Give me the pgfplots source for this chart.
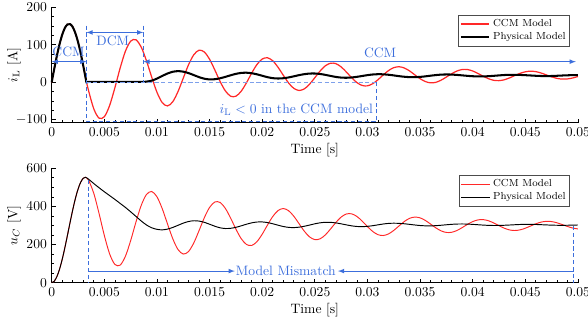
\documentclass[border=0pt]{standalone}
\usepackage{pgfplots}
\pgfplotsset{compat=1.18}
\definecolor{annblue}{RGB}{60,110,220}
\definecolor{lightblue}{RGB}{125,160,235}
\definecolor{myred}{RGB}{255,40,40}
\pgfplotsset{
  common/.style={
    width=386.8pt, scale only axis,
    xmin=0, xmax=0.05, enlargelimits=false, clip=false,
    axis lines=left, axis line style={-, line width=0.5pt},
    tick align=inside, major tick length=3pt, minor tick length=2pt,
    tick style={line width=0.5pt, black},
    xtick={0,0.005,0.01,0.015,0.02,0.025,0.03,0.035,0.04,0.045,0.05},
    minor x tick num=4, minor y tick num=3,
    scaled x ticks=false,
    xticklabel style={/pgf/number format/fixed, /pgf/number format/precision=3},
    xlabel={Time [s]},
    xlabel style={at={([yshift=-20pt]rel axis cs:0.5,0)}, anchor=center},
    ylabel style={at={([xshift=-27.7pt]rel axis cs:0,0.5)}, anchor=center},
    legend cell align=left,
    legend style={font=\fontsize{7.5}{8.5}\selectfont, draw=black!70, line width=0.5pt,
      fill=white, inner sep=1pt, row sep=-1pt},
    legend image code/.code={\draw[#1] (0pt,0pt) -- (21pt,0pt);},
  }
}
\begin{document}
\begin{tikzpicture}
\useasboundingbox (-38pt,-145pt) rectangle (394.2pt,90.2pt);
\begin{axis}[common, at={(0pt,0pt)}, height=84.8pt,
  ymin=-108, ymax=200, ytick={-100,0,100,200},
  ylabel={$i_\mathrm{L}$ [A]},
  legend style={at={(0.985,0.933)}, anchor=north east}]
\addplot[myred, line width=0.9pt, smooth] coordinates {
(0,0) (0.00025,36.8) (0.0005,71.5) (0.00075,102) (0.001,127) (0.00125,145)
(0.0015,154.4) (0.00175,155.2) (0.002,147.5) (0.00225,131) (0.0025,107.8)
(0.00275,78) (0.003,43.9) (0.00325,8) (0.0035,-22.1) (0.004,-70.9) (0.0045,-95.8)
(0.005,-92.1) (0.0055,-62.4) (0.006,-15.1) (0.0065,37.5) (0.007,82.6) (0.0075,109.7)
(0.008,113.5) (0.0085,94.3) (0.009,57.8) (0.0095,13.9) (0.010,-26.6) (0.0105,-54.3)
(0.011,-63.2) (0.0115,-52.2) (0.012,-25.0) (0.0125,10.9) (0.013,46.6) (0.0135,73.4)
(0.014,85.6) (0.0145,80.9) (0.015,61.6) (0.0155,32.8) (0.016,2.1) (0.0165,-23.0)
(0.017,-37.2) (0.0175,-37.3) (0.018,-24.1) (0.0185,-1.7) (0.019,24.3) (0.0195,47.3)
(0.020,62.0) (0.0205,65.4) (0.021,57.4) (0.0215,40.3) (0.022,18.9) (0.0225,-1.6)
(0.023,-16.2) (0.0235,-21.9) (0.024,-17.8) (0.0245,-5.3) (0.025,12.1) (0.0255,29.9)
(0.026,43.9) (0.0265,50.9) (0.027,49.7) (0.0275,41.0) (0.028,27.3) (0.0285,12.1)
(0.029,-0.9) (0.0295,-8.6) (0.030,-9.6) (0.0305,-3.9) (0.031,6.7) (0.0315,19.4)
(0.032,31.1) (0.0325,39.0) (0.033,41.4) (0.0335,38.2) (0.034,30.3) (0.0345,19.9)
(0.035,9.6) (0.0355,1.9) (0.036,-1.6) (0.0365,-0.2) (0.037,5.6) (0.0375,13.9)
(0.038,22.7) (0.0385,30.0) (0.039,34.0) (0.0395,34.0) (0.040,30.1) (0.0405,23.6)
(0.041,16.1) (0.0415,9.5) (0.042,5.2) (0.0425,4.3) (0.043,6.6) (0.0435,11.6)
(0.044,17.9) (0.0445,23.8) (0.045,27.9) (0.0455,29.6) (0.046,28.3) (0.0465,24.7)
(0.047,19.6) (0.0475,14.5) (0.048,10.4) (0.0485,8.4) (0.049,8.9) (0.0495,11.4) (0.05,15.4)
};
\addlegendentry{CCM Model}
\addplot[black, line width=1.5pt, smooth] coordinates {
(0,0) (0.00025,36.8) (0.0005,71.5) (0.00075,102) (0.001,127) (0.00125,145)
(0.0015,154.4) (0.00175,155.2) (0.002,147.5) (0.00225,131) (0.0025,107.8)
(0.00275,78) (0.003,43.9) (0.00325,7.4) (0.0033,0) (0.0035,0.8) (0.004,1) (0.005,1)
(0.006,1) (0.007,1) (0.008,1) (0.0088,1) (0.0095,4.3) (0.010,9.85) (0.0105,16.8)
(0.011,23.3) (0.0115,28.0) (0.012,29.7) (0.0125,28.3) (0.013,24.5) (0.0135,19.2)
(0.014,13.7) (0.0145,9.5) (0.015,7.6) (0.0155,8.15) (0.016,10.6) (0.0165,14.4)
(0.017,18.6) (0.0175,22.4) (0.018,24.9) (0.0185,25.5) (0.019,24.1) (0.0195,21.2)
(0.020,17.4) (0.0205,13.6) (0.021,11.0) (0.0215,10) (0.022,10.75) (0.0225,12.8)
(0.023,15.8) (0.0235,19.0) (0.024,21.6) (0.0245,23.2) (0.025,23.4) (0.0255,22.1)
(0.026,19.75) (0.0265,16.9) (0.027,14.2) (0.0275,12.5) (0.028,12.0) (0.0285,12.8)
(0.029,14.5) (0.0295,16.75) (0.030,19.0) (0.0305,20.7) (0.031,21.5) (0.0315,21.2)
(0.032,20.0) (0.0325,18.3) (0.033,16.3) (0.0335,14.7) (0.034,13.7) (0.0345,13.6)
(0.035,14.3) (0.0355,15.75) (0.036,17.5) (0.0365,19.2) (0.037,20.4) (0.0375,20.8)
(0.038,20.5) (0.0385,19.6) (0.039,18.4) (0.0395,17.1) (0.040,16.1) (0.0405,15.55)
(0.041,15.6) (0.0415,16.2) (0.042,17.2) (0.0425,18.3) (0.043,19.3) (0.0435,19.9)
(0.044,19.95) (0.0445,19.6) (0.045,18.9) (0.0455,18.1) (0.046,17.3) (0.0465,16.7)
(0.047,16.5) (0.0475,16.7) (0.048,17.3) (0.0485,18.0) (0.049,18.6) (0.0495,19.0) (0.05,19.2)
};
\addlegendentry{Physical Model}
% annotations
\draw[lightblue, line width=0.9pt, dash pattern=on 3pt off 2pt] (axis cs:0.0033,0) -- (axis cs:0.0309,0);
\draw[annblue, line width=0.6pt, dash pattern=on 3pt off 2pt]
  (axis cs:0.0033,151) -- (axis cs:0.0033,-105) -- (axis cs:0.0309,-105) -- (axis cs:0.0309,0);
\draw[annblue, line width=0.6pt, dash pattern=on 3pt off 2pt] (axis cs:0.0087,151) -- (axis cs:0.0087,0);
\draw[annblue, line width=0.6pt, <->, >=latex] (axis cs:0.0033,133) -- (axis cs:0.0087,133);
\node[annblue] at (axis cs:0.0058,110) {DCM};
\draw[annblue, line width=0.6pt, <->, >=latex] (axis cs:0,55) -- (axis cs:0.0033,55);
\node[annblue] at (axis cs:0.0016,80) {CCM};
\draw[annblue, line width=0.6pt, <->, >=latex] (axis cs:0.0087,55) -- (axis cs:0.0498,55);
\node[annblue] at (axis cs:0.0312,78) {CCM};
\node[annblue, anchor=east, inner sep=0pt] at (axis cs:0.03055,-74) {$i_\mathrm{L}<0$ in the CCM model};
\end{axis}
\begin{axis}[common, at={(0pt,-117.6pt)}, height=84.1pt,
  ymin=0, ymax=600, ytick={0,200,400,600},
  ylabel={$u_C$ [V]},
  legend style={at={(0.985,0.941)}, anchor=north east}]
\addplot[myred, line width=0.7pt, smooth] coordinates {
(0,0) (0.00025,8.3) (0.0005,32.7) (0.00075,71.6) (0.001,122.9) (0.00125,183.4)
(0.0015,249.4) (0.00175,317.1) (0.002,382.3) (0.00225,441.2) (0.0025,490.2)
(0.00275,526.5) (0.003,547.7) (0.0032,553)
(0.0035,537.7) (0.004,468.6) (0.0045,363) (0.005,248) (0.0055,151.7) (0.006,96)
(0.0065,92) (0.007,138) (0.0075,220.2) (0.008,317) (0.0085,404.5) (0.009,462.3)
(0.0095,478.3) (0.010,450.8) (0.0105,388.8) (0.011,308.9) (0.0115,231.2) (0.012,174.1)
(0.0125,150.3) (0.013,163.4) (0.0135,208.5) (0.014,273.0) (0.0145,340.5) (0.015,394.7)
(0.0155,423.3) (0.016,420.9) (0.0165,389.8) (0.017,339.0) (0.0175,281.5) (0.018,231.6)
(0.0185,200.7) (0.019,195.2) (0.0195,215.1) (0.020,254.2) (0.0205,302.1) (0.021,346.8)
(0.0215,378.1) (0.022,389.0) (0.0225,378.0) (0.023,349.0) (0.0235,309.8) (0.024,270.4)
(0.0245,240.3) (0.025,226.0) (0.0255,230.1) (0.026,250.7) (0.0265,282.0) (0.027,315.9)
(0.0275,344.2) (0.028,360.4) (0.0285,361.2) (0.029,347.5) (0.0295,323.1) (0.030,294.5)
(0.0305,268.8) (0.031,251.9) (0.0315,247.4) (0.032,255.7) (0.0325,274.2) (0.033,297.8)
(0.0335,320.7) (0.034,337.4) (0.0345,344.2) (0.035,340.1) (0.0355,326.7) (0.036,307.6)
(0.0365,287.7) (0.037,271.8) (0.0375,263.5) (0.038,264.4) (0.0385,273.7) (0.039,288.8)
(0.0395,305.8) (0.040,320.4) (0.0405,329.4) (0.041,330.9) (0.0415,324.9) (0.042,313.3)
(0.0425,299.1) (0.043,286.0) (0.0435,276.8) (0.044,273.7) (0.0445,277.1) (0.045,285.7)
(0.0455,297.3) (0.046,308.9) (0.0465,317.8) (0.047,321.9) (0.0475,320.6) (0.048,314.4)
(0.0485,305.1) (0.049,295.1) (0.0495,286.8) (0.05,282.1)
};
\addlegendentry{CCM Model}
\addplot[black, line width=0.7pt, smooth] coordinates {
(0,0) (0.00025,8.3) (0.0005,32.7) (0.00075,71.6) (0.001,122.9) (0.00125,183.4)
(0.0015,249.4) (0.00175,317.1) (0.002,382.3) (0.00225,441.2) (0.0025,490.2)
(0.00275,526.5) (0.003,547.7) (0.0032,553)
(0.0035,543) (0.004,520) (0.0045,498) (0.005,477) (0.0055,457) (0.006,437)
(0.0065,416) (0.007,395) (0.0075,372) (0.008,348) (0.0085,324) (0.009,303)
(0.0095,288) (0.010,280) (0.0105,277.1) (0.011,281.1) (0.0115,289.7) (0.012,301)
(0.0125,312.3) (0.013,320.9) (0.0135,324.9) (0.014,323.2) (0.0145,316.6) (0.015,306.7)
(0.0155,296.2) (0.016,287.9) (0.0165,284.1) (0.017,285.3) (0.0175,290.4) (0.018,298.1)
(0.0185,306.6) (0.019,313.9) (0.0195,318.2) (0.020,318.7) (0.0205,315.4) (0.021,309.2)
(0.0215,301.7) (0.022,294.8) (0.0225,290.2) (0.023,289.1) (0.0235,291.2) (0.024,296)
(0.0245,302.3) (0.025,308.8) (0.0255,314) (0.026,316.7) (0.0265,316.5) (0.027,313.6)
(0.0275,308.8) (0.028,303.3) (0.0285,298.2) (0.029,294.9) (0.0295,294) (0.030,295.6)
(0.0305,299) (0.031,303.5) (0.0315,307.8) (0.032,310.9) (0.0325,312) (0.033,311.2)
(0.0335,309.1) (0.034,306) (0.0345,302.7) (0.035,299.9) (0.0355,298.3) (0.036,298.1)
(0.0365,299.2) (0.037,301.3) (0.0375,303.8) (0.038,306.1) (0.0385,307.6) (0.039,308)
(0.0395,307.3) (0.040,305.9) (0.0405,304) (0.041,302.1) (0.0415,300.7) (0.042,300)
(0.0425,300.2) (0.043,301.2) (0.0435,302.5) (0.044,304) (0.0445,305.3) (0.045,305.9)
(0.0455,305.9) (0.046,305.3) (0.0465,304.2) (0.047,303) (0.0475,301.9) (0.048,301.2)
(0.0485,301) (0.049,301.3) (0.0495,302) (0.05,302.6)
};
\addlegendentry{Physical Model}
\draw[annblue, line width=0.6pt, dash pattern=on 3pt off 2pt] (axis cs:0.0035,540) -- (axis cs:0.0035,0);
\draw[annblue, line width=0.6pt, dash pattern=on 3pt off 2pt] (axis cs:0.0496,297) -- (axis cs:0.0496,0);
\draw[annblue, line width=0.6pt, ->, >=latex] (axis cs:0.0035,61) -- (axis cs:0.0174,61);
\draw[annblue, line width=0.6pt, ->, >=latex] (axis cs:0.0496,61) -- (axis cs:0.0272,61);
\node[annblue] at (axis cs:0.02225,61) {Model Mismatch};
\end{axis}
\end{tikzpicture}
\end{document}
